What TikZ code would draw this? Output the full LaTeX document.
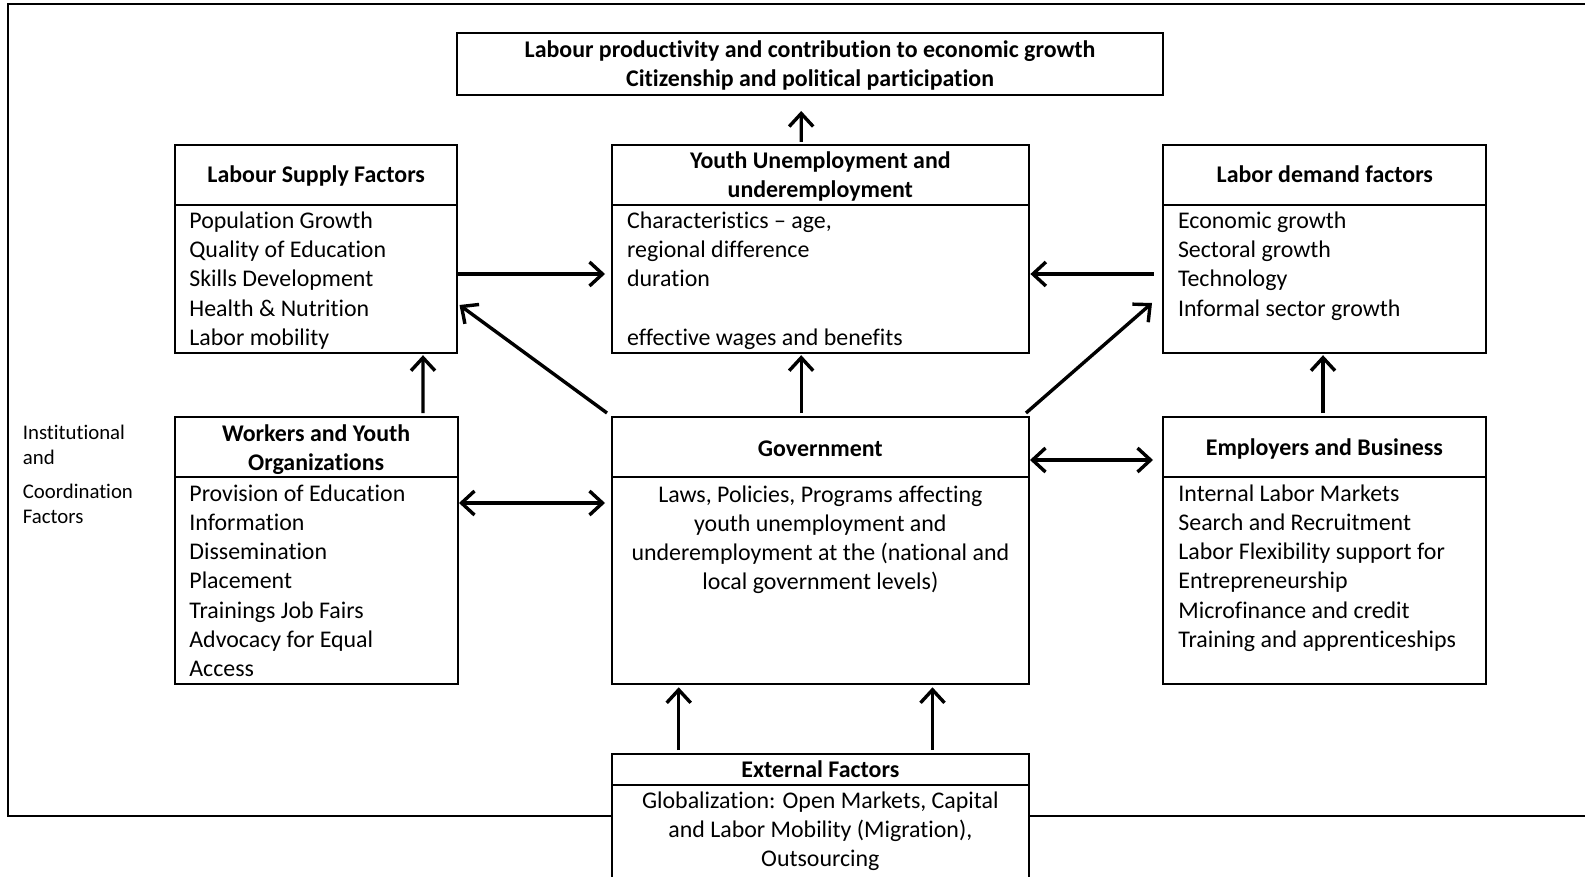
\documentclass[tikz,border=0pt]{standalone}
\usepackage{fontspec}
\setmainfont{Carlito}[Ligatures=NoCommon]
\usetikzlibrary{arrows.meta,calc}
\newcommand\mystr{\rule{0pt}{11pt}}
\begin{document}
\begin{tikzpicture}[x=0.5pt,y=-0.5pt,
  bx/.style 2 args={draw,line width=1pt,inner sep=0pt,outer sep=0pt,anchor=north west,
    minimum width=#1*0.5pt,minimum height=#2*0.5pt},
  bodyl/.style={font=\fontsize{11.95}{14.575}\selectfont,inner sep=0pt,anchor=north west,align=left},
  bodyc/.style={font=\fontsize{11.95}{14.575}\selectfont,inner sep=0pt,anchor=north,align=center},
  ttl/.style={font=\fontsize{11.95}{14.575}\selectfont\bfseries,inner sep=0pt,anchor=north,align=center},
  side/.style={font=\fontsize{10.4}{12}\selectfont,inner sep=0pt,anchor=base west},
  arr/.style={line width=1.7pt,-{Straight Barb[length=6.5pt,width=12pt]}},
  darr/.style={line width=1.7pt,{Straight Barb[length=6.5pt,width=12pt]}-{Straight Barb[length=6.5pt,width=12pt]}}]
\useasboundingbox (0,0) rectangle (1585,877);
% outer frame
\draw[line width=1pt] (1585,4) -- (7.5,4) -- (7.5,815.7) -- (1585,815.7);

% top box
\node[bx={706.8}{61.7}] (tb) at (456.6,33.3) {};
\node[ttl] (tbt) at (810,34.7) {\mystr Labour productivity and contribution to economic growth\\Citizenship and political participation};

% Labour supply
\node[bx={282.3}{59.7}] (lsh) at (175,145) {};
\node[bx={282.3}{148}] (lsb) at (175,204.7) {};
\node[ttl] (lst) at (316.2,160.5) {\mystr Labour Supply Factors};
\node[bodyl] (lsx) at (189,206.3) {\mystr Population Growth\\Quality of Education\\Skills Development\\Health \& Nutrition\\Labor mobility};

% Youth unemployment
\node[bx={417.1}{59.7}] (yuh) at (611.8,145) {};
\node[bx={417.1}{148}] (yub) at (611.8,204.7) {};
\node[ttl] (yut) at (820.35,146.3) {\mystr Youth Unemployment and\\underemployment};
\node[bodyl] (yux) at (626.7,206.3) {\mystr Characteristics – age,\\regional difference\\duration\\\mbox{}\\effective wages and benefits};

% Labor demand
\node[bx={322.8}{59.7}] (ldh) at (1163.4,145) {};
\node[bx={322.8}{148}] (ldb) at (1163.4,204.7) {};
\node[ttl] (ldt) at (1324.8,160.5) {\mystr Labor demand factors};
\node[bodyl] (ldx) at (1177.6,206.3) {\mystr Economic growth\\Sectoral growth\\Technology\\Informal sector growth};

% Workers and youth organizations
\node[bx={282.7}{60}] (wyh) at (174.8,416.7) {};
\node[bx={282.7}{207.6}] (wyb) at (174.8,476.7) {};
\node[ttl] (wyt) at (316.15,419) {\mystr Workers and Youth\\Organizations};
\node[bodyl] (wyx) at (189,479) {\mystr Provision of Education\\Information\\Dissemination\\Placement\\Trainings Job Fairs\\Advocacy for Equal\\Access};

% Government
\node[bx={417.1}{60}] (gh) at (611.8,416.7) {};
\node[bx={417.1}{207.6}] (gb) at (611.8,476.7) {};
\node[ttl] (gt) at (820.35,433.7) {\mystr Government};
\node[bodyc] (gx) at (820.35,479.7) {\mystr Laws, Policies, Programs affecting\\youth unemployment and\\underemployment at the (national and\\local government levels)};

% Employers and business
\node[bx={322.8}{60}] (ebh) at (1163,416.7) {};
\node[bx={322.8}{207.6}] (ebb) at (1163,476.7) {};
\node[ttl] (ebt) at (1324.4,433) {\mystr Employers and Business};
\node[bodyl] (ebx) at (1178,479) {\mystr Internal Labor Markets\\Search and Recruitment\\Labor Flexibility support for\\Entrepreneurship\\Microfinance and credit\\Training and apprenticeships};

% External factors
\node[bx={417.1}{31},fill=white] (efh) at (611.8,754) {};
\node[bx={417.1}{100},fill=white] (efb) at (611.8,785) {};
\node[ttl] (eft) at (820.35,754.7) {\mystr External Factors};
\node[bodyc] (efx) at (820.35,785.7) {\mystr Globalization: Open Markets, Capital\\and Labor Mobility (Migration),\\Outsourcing};

% side label
\node[side] (s1) at (22.5,439) {Institutional};
\node[side] (s2) at (22.5,464) {and};
\node[side] (s3) at (22.5,498.3) {Coordination};
\node[side] (s4) at (22.5,523.3) {Factors};

% arrows
\draw[arr] ($(yuh.north west)+(189.4,-3)$) -- ($(tb.south west)+(344.6,16)$);
\draw[arr] ($(lsb.north east)+(0,69.3)$) -- ($(yub.north west)+(-6.8,69.3)$);
\draw[arr] ($(ldb.north west)+(-9.7,69.3)$) -- ($(yub.north east)+(1.5,69.3)$);
\draw[arr] ($(gh.north west)+(-4.8,-3.7)$) -- ($(lsb.south east)+(2.2,-47.7)$);
\draw[arr] ($(gh.north west)+(189.4,-3.7)$) -- ($(yub.south west)+(189.4,2.5)$);
\draw[arr] ($(gh.north east)+(-2.9,-3.7)$) -- ($(ldb.north west)+(-11.4,98.3)$);
\draw[arr] ($(wyh.north west)+(248.2,-3.7)$) -- ($(lsb.south west)+(248,2.5)$);
\draw[darr] ($(wyb.north east)+(1.5,26.3)$) -- ($(gb.north west)+(-6.8,26.3)$);
\draw[darr] ($(gh.north east)+(1.1,43.3)$) -- ($(ebh.north west)+(-10,43.3)$);
\draw[arr] ($(ebh.north west)+(160,-3.7)$) -- ($(ldb.south west)+(159.6,2.5)$);
\draw[arr] ($(efh.north west)+(66.9,-4)$) -- ($(gb.south west)+(66.9,3)$);
\draw[arr] ($(efh.north west)+(320.7,-4)$) -- ($(gb.south west)+(320.7,3)$);
\end{tikzpicture}
\end{document}
